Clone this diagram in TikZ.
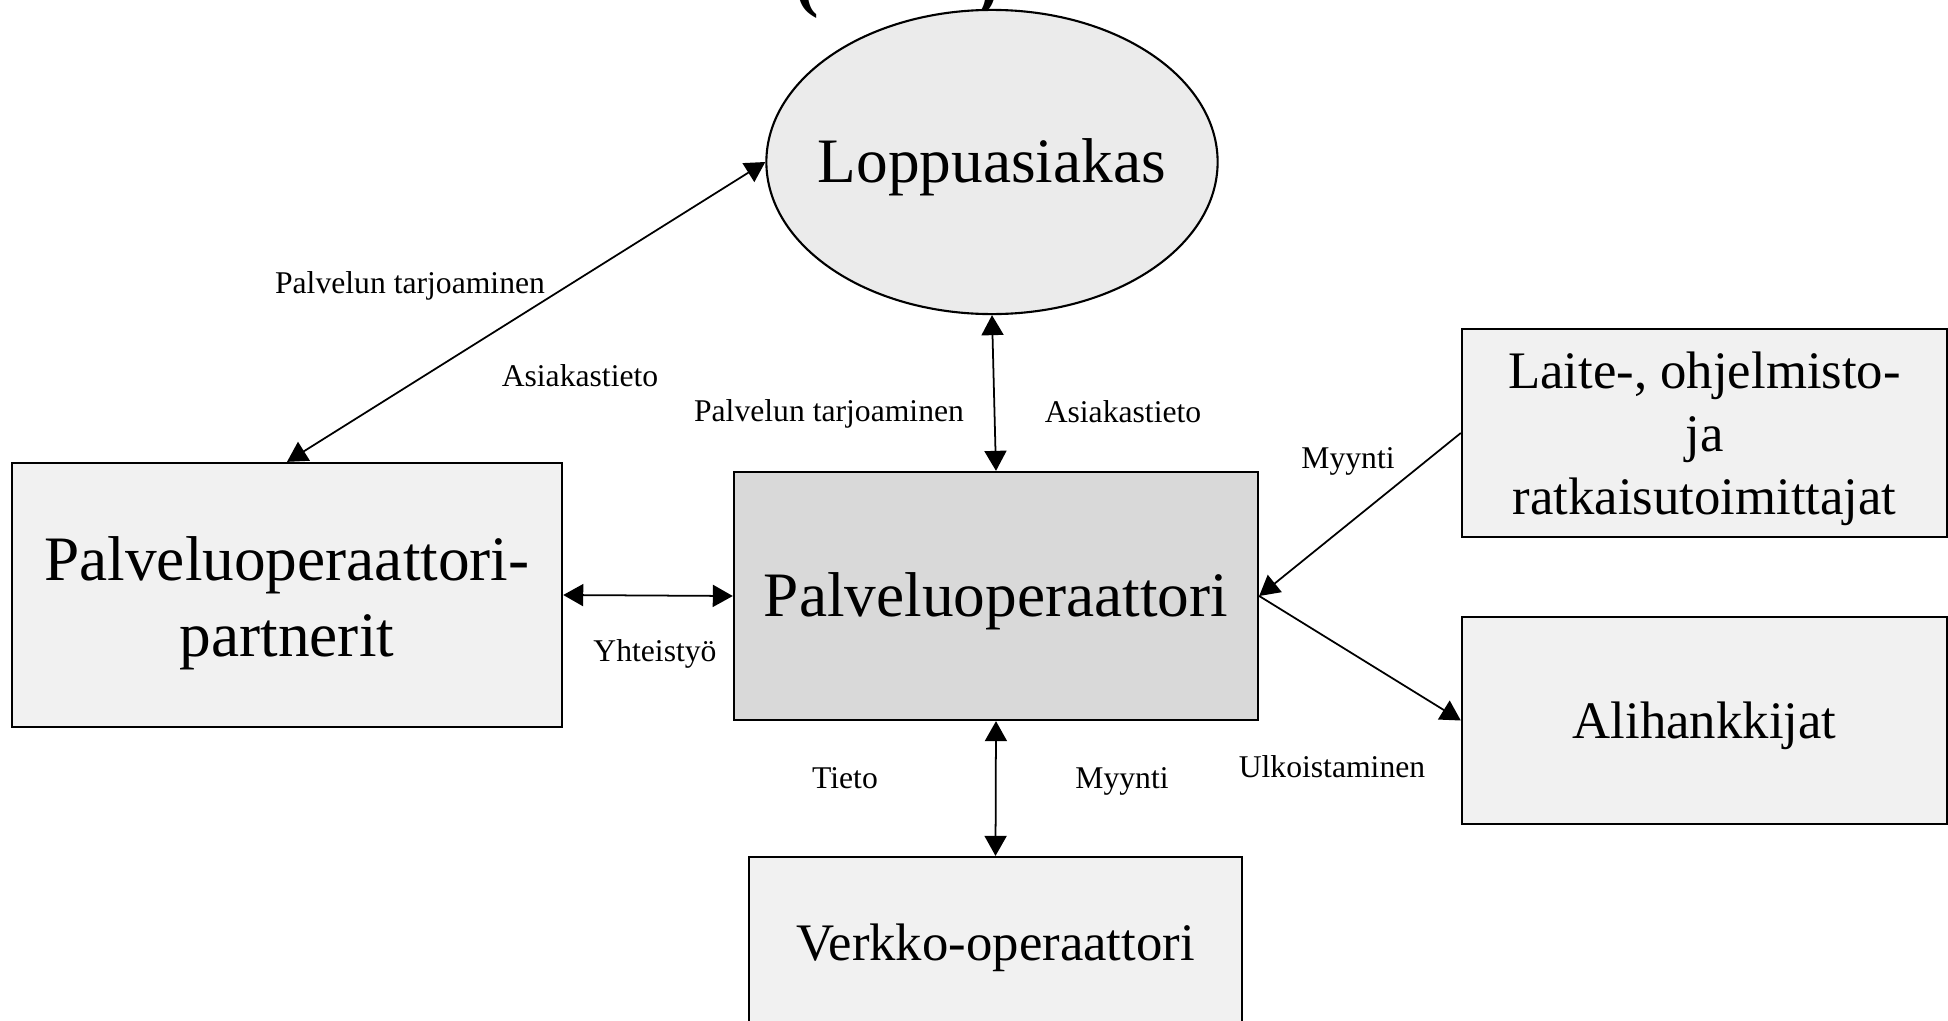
\documentclass[tikz,border=0pt]{standalone}
\usepackage{fontspec}
\setmainfont{Liberation Serif}
\usepackage{xcolor}
\usetikzlibrary{arrows.meta, positioning, shapes.geometric}
\definecolor{lightfill}{HTML}{F1F1F1}
\definecolor{corefill}{HTML}{D9D9D9}
\definecolor{ovalfill}{HTML}{EBEBEB}

\begin{document}
\begin{tikzpicture}[x=0.01cm, y=-0.01cm, >={Triangle[length=2mm, width=2.2mm]},
    actor/.style={rectangle, draw, line width=0.6pt, fill=lightfill, align=center, inner sep=0pt},
    big/.style={font=\fontsize{18}{21.6}\selectfont},
    mid/.style={font=\fontsize{15}{18}\selectfont},
    lbl/.style={font=\fontsize{9}{11}\selectfont, inner sep=0pt},
    link/.style={line width=0.5pt}]
    \useasboundingbox (0,0) rectangle (1948,1021);
    \node[anchor=base west, inner sep=0pt, font=\fontsize{20}{24}\selectfont\bfseries] (title) at (795,4) {(\hspace{1.56cm})};
    \node[ellipse, draw, line width=0.6pt, fill=ovalfill, minimum width=4.51cm, minimum height=3.04cm, inner sep=0pt, big] (customer) at (992,162) {\makebox[0pt]{\rule{0pt}{15.7pt}Loppuasiakas}};
    \node[actor, big, minimum width=5.50cm, minimum height=2.64cm] (partners) at (287,595) {\rule{0pt}{17pt}Palveluoperaattori-\\partnerit};
    \node[actor, big, fill=corefill, minimum width=5.24cm, minimum height=2.48cm] (core) at (996,596) {\rule{0pt}{15.7pt}Palveluoperaattori};
    \node[actor, mid, minimum width=4.85cm, minimum height=2.08cm] (vendors) at (1704.5,433) {\rule{0pt}{13.6pt}Laite-, ohjelmisto-\\ja\\ratkaisutoimittajat};
    \node[actor, mid, minimum width=4.85cm, minimum height=2.07cm] (subcon) at (1704.5,720.5) {\rule{0pt}{13.6pt}Alihankkijat};
    \node[actor, mid, minimum width=4.92cm, minimum height=1.74cm] (network) at (995.5,944) {\rule{0pt}{12.5pt}Verkko-operaattori};

    \draw[link, <->] (customer.west) -- (partners.north);
    \draw[link, <->] (customer.south) -- (core.north);
    \draw[link, <->] (partners.east) -- (core.west);
    \draw[link, ->] (vendors.west) -- (core.east);
    \draw[link, ->] (core.east) -- (subcon.west);
    \draw[link, <->] (core.south) -- (network.north);

    \node[lbl] (offerA) at (410,286) {Palvelun tarjoaminen};
    \node[lbl] (infoA) at (580,376) {Asiakastieto};
    \node[lbl] (offerB) at (829,414) {Palvelun tarjoaminen};
    \node[lbl] (infoB) at (1123,412) {Asiakastieto};
    \node[lbl] (salesA) at (1348,461) {Myynti};
    \node[lbl] (coop) at (655,654) {Yhteistyö};
    \node[lbl] (outsrc) at (1332,767) {Ulkoistaminen};
    \node[lbl] (data) at (845,778) {Tieto};
    \node[lbl] (salesB) at (1122,781) {Myynti};
\end{tikzpicture}
\end{document}
